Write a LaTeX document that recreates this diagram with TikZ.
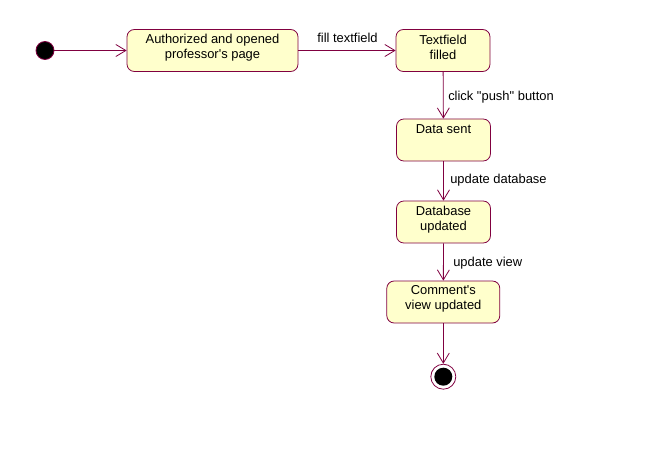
\documentclass[tikz,border=0pt]{standalone}
\usepackage{fontspec}
\setmainfont{Liberation Sans}[Ligatures=TeXOff]
\usetikzlibrary{arrows.meta}
\definecolor{umlred}{RGB}{128,0,64}
\definecolor{umlfill}{RGB}{255,255,204}
\begin{document}
\begin{tikzpicture}[x=0.75pt,y=-0.75pt,
  every node/.style={font=\fontsize{9.7}{11.25}\selectfont},
  statebox/.style={draw=umlred,fill=umlfill,rounded corners=5.5pt,line width=0.6pt,inner sep=0pt},
  txt/.style={align=center,inner sep=0pt,text=black},
  lbl/.style={inner sep=0pt,text=black},
  flow/.style={draw=umlred,line width=0.6pt,-{Straight Barb[length=7.5pt,width=9pt]}}]
\useasboundingbox (0,0) rectangle (645,456);
% initial state
\node[circle,fill=black,draw=umlred,line width=0.6pt,minimum size=13.5pt,inner sep=0pt] (init) at (45,50.5) {};
% states
\node[statebox,minimum width=171*0.75pt,minimum height=42*0.75pt] (b1) at (212.5,50.5) {};
\node[txt] (t1) at (212.5,47.5) {Authorized and opened\\professor's page};
\node[statebox,minimum width=94*0.75pt,minimum height=42*0.75pt] (b2) at (443,50.5) {};
\node[txt] (t2) at (443,47.5) {Textfield\\filled};
\node[statebox,minimum width=94*0.75pt,minimum height=42*0.75pt] (b3) at (443.5,140) {};
\node[txt] (t3) at (443.5,129) {Data sent};
\node[statebox,minimum width=94*0.75pt,minimum height=42*0.75pt] (b4) at (443.5,222) {};
\node[txt] (t4) at (443.5,219.3) {Database\\updated};
\node[statebox,minimum width=113*0.75pt,minimum height=42*0.75pt] (b5) at (443.3,302) {};
\node[txt] (t5) at (443.3,299.3) {Comment's\\view updated};
% final state
\node[circle,draw=umlred,fill=white,line width=0.6pt,minimum size=25*0.75pt,inner sep=0pt] (final) at (443.3,376.7) {};
\node[circle,fill=black,minimum size=18*0.75pt,inner sep=0pt] (finalin) at (final.center) {};
% transitions
\draw[flow] (init) -- (b1);
\draw[flow] (b1.east) -- (b2.west);
\draw[flow] (b2) -- (b3);
\draw[flow] (b3) -- (b4);
\draw[flow] (b4) -- (b5);
\draw[flow] (b5) -- (final);
% labels
\node[lbl] (l1) at (347.5,38) {fill textfield};
\node[lbl,anchor=west] (l2) at (448,97) {click "push" button};
\node[lbl,anchor=west] (l3) at (450,180) {update database};
\node[lbl,anchor=west] (l4) at (453,263.5) {update view};
\end{tikzpicture}
\end{document}
